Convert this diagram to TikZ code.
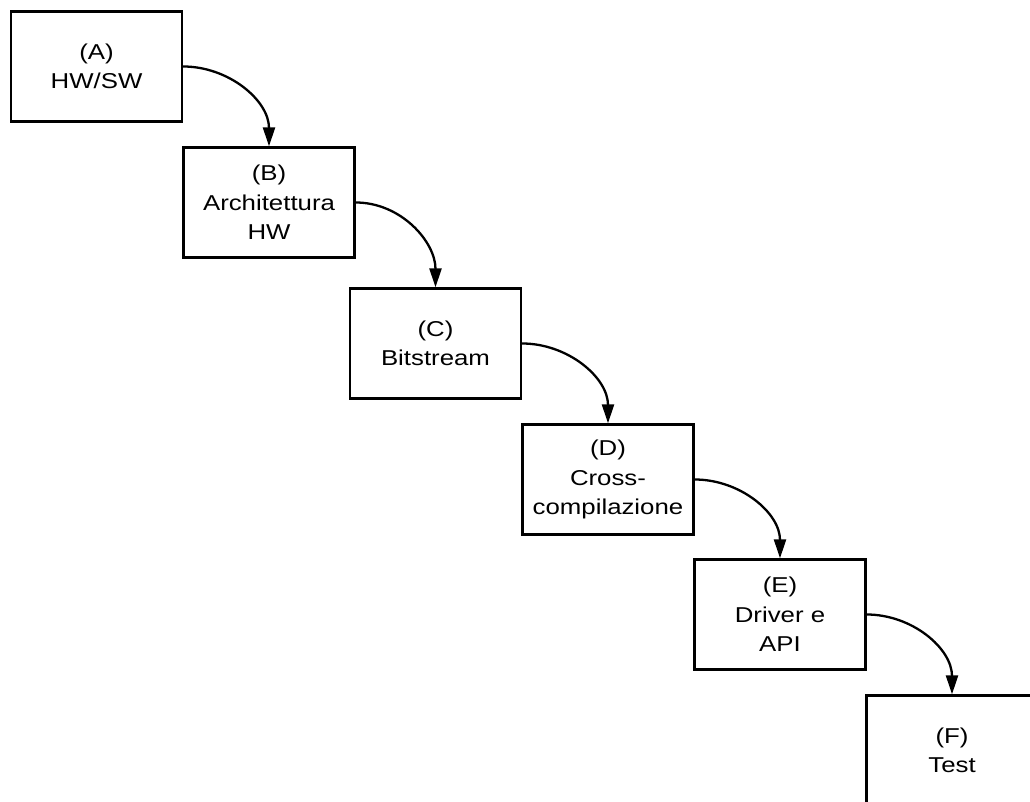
\documentclass[tikz,border=0pt]{standalone}
\usepackage{fontspec}
\setmainfont{Liberation Sans}[FakeStretch=1.2]
\usetikzlibrary{arrows.meta}
\begin{document}
\begin{tikzpicture}[x=1pt,y=1pt,
  stepbox/.style={draw=black, fill=white, line width=2.3pt,
    minimum width=171pt, minimum height=110pt, inner sep=0pt,
    align=center, font=\fontsize{21.5}{29.5}\selectfont},
  flow/.style={line width=2.3pt, -{Triangle[length=19pt,width=12pt]}}]
  \useasboundingbox (0,0) rectangle (1030,801);
  \clip (0,0) rectangle (1030,801);
  % boxes placed on a descending diagonal (y measured upwards)
  \node[stepbox] (A) at (96.5,734.5) {(A)\\HW/SW};
  \node[stepbox] (B) at (269,598.5) {(B)\\Architettura\\HW};
  \node[stepbox] (C) at (435.5,457.5) {(C)\\Bitstream};
  \node[stepbox] (D) at (608,321.5) {(D)\\Cross-\\compilazione};
  \node[stepbox] (E) at (780,186.5) {(E)\\Driver e\\API};
  \node[stepbox] (F) at (952,50.5) {(F)\\Test};
  % curved connectors from each right side to the next top side
  \draw[flow] (A.east) to[out=0,in=90] (B.north);
  \draw[flow] (B.east) to[out=0,in=90] (C.north);
  \draw[flow] (C.east) to[out=0,in=90] (D.north);
  \draw[flow] (D.east) to[out=0,in=90] (E.north);
  \draw[flow] (E.east) to[out=0,in=90] (F.north);
\end{tikzpicture}
\end{document}
